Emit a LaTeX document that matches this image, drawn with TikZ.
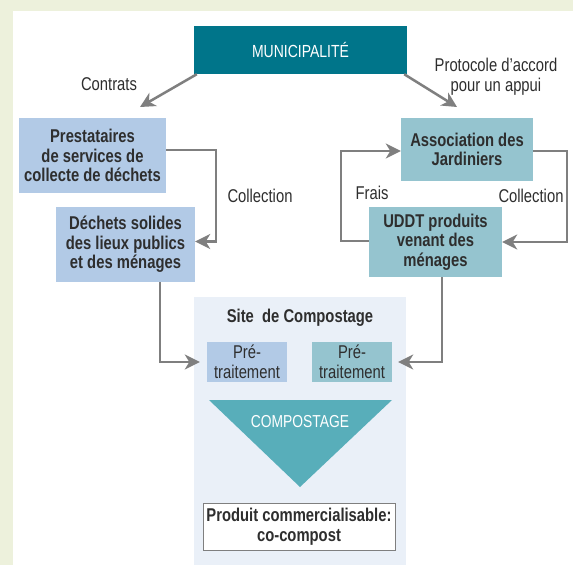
\documentclass[tikz,border=0pt]{standalone}
\usepackage{fontspec}
\setmainfont{Liberation Sans}[FakeStretch=0.8]
\usetikzlibrary{arrows.meta}
\definecolor{pagegreen}{HTML}{EDF1DC}
\definecolor{muniteal}{HTML}{00758A}
\definecolor{paleblue}{HTML}{B2CAE6}
\definecolor{paleteal}{HTML}{95C4CF}
\definecolor{sitebg}{HTML}{EAF0F8}
\definecolor{triteal}{HTML}{58AEBA}
\definecolor{arrowgray}{HTML}{7F7F7F}
\definecolor{textdark}{HTML}{2E2E2E}
\tikzset{
  box/.style={inner sep=0pt, align=center, font=\fontsize{18.5}{19.5}\selectfont\bfseries, text=textdark},
  bluebox/.style={box, fill=paleblue},
  tealbox/.style={box, fill=paleteal},
  lbl/.style={inner sep=0pt, align=center, font=\fontsize{18.5}{20}\selectfont, text=textdark},
  flow/.style={draw=arrowgray, line width=2.5pt, -{Stealth[length=15pt,width=15pt,inset=4.5pt]}},
}
\begin{document}
\begin{tikzpicture}[x=1pt,y=-1pt]
  % page background and white sheet
  \fill[pagegreen] (0,0) rectangle (573,565);
  \fill[white] (13,11) rectangle (573,565);
  \useasboundingbox (0,0) rectangle (573,565);

  % main actors
  \node[box, fill=muniteal, text=white, font=\fontsize{17.5}{19}\selectfont,
        minimum width=213pt, minimum height=48pt] (muni) at (300.5,50) {MUNICIPALITÉ};
  \node[bluebox, minimum width=147pt, minimum height=75pt] (prest) at (92.5,155.5)
        {Prestataires\\de services de\\collecte de déchets};
  \node[bluebox, minimum width=139pt, minimum height=75pt] (dechets) at (125.5,244.5)
        {Déchets solides\\des lieux publics\\et des ménages};
  \node[tealbox, minimum width=132pt, minimum height=63pt] (assoc) at (467,149.5)
        {Association des\\Jardiniers};
  \node[tealbox, minimum width=133pt, minimum height=70pt] (uddt) at (435.5,242)
        {UDDT produits\\venant des\\ménages};

  % composting site
  \node[fill=sitebg, minimum width=212pt, minimum height=268pt, inner sep=0pt] (site) at (300,431) {};
  \node[lbl, font=\fontsize{18.5}{20}\selectfont\bfseries] (sitetitle) at (300,318) {Site\ \ de Compostage};
  \node[lbl, fill=paleblue, minimum width=80pt, minimum height=40pt] (prel) at (247,362)
        {Pré-\\traitement};
  \node[lbl, fill=paleteal, minimum width=80pt, minimum height=40pt] (prer) at (352,362)
        {Pré-\\traitement};
  \fill[triteal] (209,400) -- (392,400) -- (300,487) -- cycle;
  \node[lbl, text=white, font=\fontsize{17.3}{19}\selectfont] (compost) at (300,422) {COMPOSTAGE};
  \node[box, fill=white, draw=arrowgray, line width=1pt, minimum width=192pt, minimum height=47pt]
        (produit) at (299,526.5) {Produit commercialisable:\\co-compost};

  % edge labels
  \node[lbl] (lcontrats) at (109,84) {Contrats};
  \node[lbl] (lproto) at (496,77) {Protocole d’accord\\pour un appui};
  \node[lbl] (lcoll1) at (260,196) {Collection};
  \node[lbl] (lfrais) at (372,193) {Frais};
  \node[lbl] (lcoll2) at (531,196) {Collection};

  % connectors
  \coordinate (contratsend) at (140,107);
  \coordinate (protoend) at (457,107);
  \draw[flow] ([xshift=3pt]muni.south west) -- (contratsend);
  \draw[flow] ([xshift=-3pt]muni.south east) -- (protoend);
  \draw[flow] ([yshift=5.5pt]prest.east) -- ++(50,0) |- ([yshift=3pt]dechets.east);
  \draw[flow] ([yshift=-1.5pt]assoc.east) -- ++(34,0) |- ([yshift=0pt]uddt.east);
  \draw[flow] ([yshift=1pt]uddt.west) -- ++(-28,0) |- ([yshift=-1.5pt]assoc.west);
  \draw[flow] ([xshift=34.5pt]dechets.south) |- ([xshift=-7pt]prel.west);
  \draw[flow] ([xshift=6.5pt]uddt.south) |- ([xshift=6pt]prer.east);
\end{tikzpicture}
\end{document}
